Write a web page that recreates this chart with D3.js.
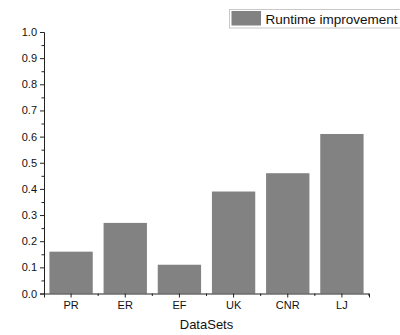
<!DOCTYPE html>
<html>
<head>
<meta charset="utf-8">
<script src="https://cdn.jsdelivr.net/npm/d3@7"></script>
<style>
  body { margin: 0; background: #fff; }
  text { font-family: Arial, "Liberation Sans", sans-serif; }
</style>
</head>
<body>
<div id="chart"></div>
<script>
const datasets = ["PR", "ER", "EF", "UK", "CNR", "LJ"];
const improvement = [0.16, 0.27, 0.11, 0.39, 0.46, 0.61];
const yTicks = [0, 0.1, 0.2, 0.3, 0.4, 0.5, 0.6, 0.7, 0.8, 0.9, 1.0];

const W = 400, H = 335;
const margin = { top: 32, right: 31, bottom: 41.5, left: 44 };
const width = W - margin.left - margin.right;
const height = H - margin.top - margin.bottom;

const svg = d3.select("#chart").append("svg")
  .attr("width", W).attr("height", H);

const g = svg.append("g")
  .attr("transform", "translate(" + margin.left + "," + margin.top + ")");

const x = d3.scaleBand()
  .domain(datasets)
  .range([0, width])
  .paddingInner(0.2)
  .paddingOuter(0.1);

const y = d3.scaleLinear().domain([0, 1]).range([height, 0]);

// bars
g.selectAll(".bar")
  .data(datasets)
  .enter()
  .append("rect")
  .attr("class", "bar")
  .attr("x", d => x(d))
  .attr("y", (d, i) => y(improvement[i]))
  .attr("width", x.bandwidth())
  .attr("height", (d, i) => height - y(improvement[i]))
  .style("fill", "#828282");

// y axis, major + minor ticks
g.append("g")
  .call(d3.axisLeft(y).tickValues(yTicks).tickFormat(d3.format(".1f")).tickSize(4).tickPadding(3));
g.append("g")
  .call(d3.axisLeft(y).tickValues(yTicks.slice(0, -1).map(v => v + 0.05)).tickSize(2.5).tickFormat(""))
  .select(".domain").remove();

// x axis: major ticks at centers, minor at boundaries
g.append("g")
  .attr("transform", "translate(0," + height + ")")
  .call(d3.axisBottom(x).tickSize(4).tickPadding(4));
const bounds = datasets.slice(1).map(d => x(d) - x.step() * x.paddingInner() / 2).concat([width]);
const minor = g.append("g").attr("transform", "translate(0," + height + ")");
minor.selectAll("line")
  .data(bounds)
  .enter()
  .append("line")
  .attr("x1", d => d).attr("x2", d => d)
  .attr("y1", 0).attr("y2", 2.5)
  .attr("stroke", "#222");

svg.selectAll(".domain, .tick line").attr("stroke", "#222");
svg.selectAll(".tick text").style("font-size", "11px").attr("fill", "#111");

// axis title
svg.append("text")
  .attr("x", margin.left + width / 2)
  .attr("y", 329)
  .attr("text-anchor", "middle")
  .style("font-size", "13px")
  .attr("fill", "#111")
  .text("DataSets");

// legend
const leg = svg.append("g").attr("transform", "translate(229,9)");
leg.append("rect")
  .attr("x", 0.5).attr("y", 0.5)
  .attr("width", 172).attr("height", 18.5)
  .attr("fill", "#fff").attr("stroke", "#c8c8c8");
leg.append("rect")
  .attr("x", 2.5).attr("y", 2).attr("width", 29.5).attr("height", 14.5)
  .attr("fill", "#828282");
leg.append("text")
  .attr("x", 36.5).attr("y", 14.5)
  .style("font-size", "13.5px")
  .attr("fill", "#111")
  .text("Runtime improvement");
</script>
</body>
</html>
